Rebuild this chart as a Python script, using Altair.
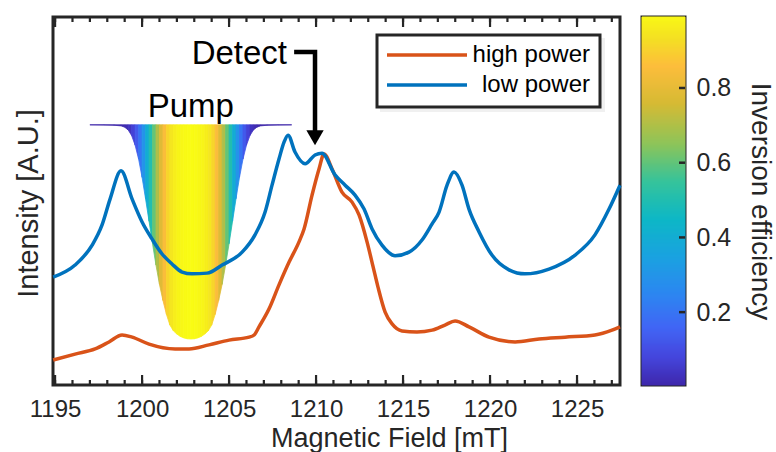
import altair as alt
import numpy as np
import pandas as pd

FONT = "Liberation Sans"
INK = "#262626"

# ---------------- data ----------------
low_field = [1194.89, 1196.15, 1197.13, 1197.70, 1198.16, 1198.79, 1199.43, 1200.00, 1200.57, 1201.15,
             1201.72, 1202.30, 1202.87, 1203.74, 1204.60, 1205.75, 1206.49, 1207.07, 1207.47, 1207.87,
             1208.16, 1208.39, 1208.79, 1209.37, 1209.94, 1210.34, 1211.09, 1211.67, 1212.24, 1212.76,
             1213.22, 1213.79, 1214.54, 1215.34, 1216.09, 1216.67, 1217.07, 1217.53, 1217.93, 1218.39,
             1218.79, 1219.37, 1220.11, 1221.09, 1222.01, 1223.39, 1224.89, 1226.03, 1226.84, 1227.47]
low_int = [0.293, 0.326, 0.380, 0.435, 0.505, 0.582, 0.505, 0.443, 0.397, 0.356,
           0.329, 0.307, 0.302, 0.304, 0.326, 0.361, 0.408, 0.470, 0.543, 0.614,
           0.660, 0.679, 0.633, 0.601, 0.625, 0.630, 0.571, 0.543, 0.516, 0.478,
           0.424, 0.380, 0.351, 0.361, 0.394, 0.438, 0.470, 0.543, 0.579, 0.543,
           0.478, 0.416, 0.353, 0.313, 0.302, 0.315, 0.353, 0.408, 0.478, 0.543]

high_field = [1194.89, 1196.15, 1197.30, 1198.10, 1198.85, 1199.43, 1200.40, 1201.90, 1202.70, 1203.85,
              1205.00, 1206.15, 1206.44, 1206.72, 1207.30, 1207.87, 1208.45, 1209.02, 1209.31, 1209.77,
              1210.17, 1210.46, 1210.92, 1211.49, 1212.07, 1212.47, 1212.93, 1213.28, 1213.56, 1213.97,
              1214.37, 1214.94, 1215.80, 1216.67, 1217.41, 1217.99, 1218.79, 1219.94, 1221.44, 1222.82,
              1224.31, 1226.03, 1227.01, 1227.47]
high_int = [0.068, 0.084, 0.098, 0.117, 0.136, 0.130, 0.111, 0.098, 0.098, 0.109,
            0.122, 0.130, 0.136, 0.158, 0.207, 0.272, 0.334, 0.389, 0.424, 0.516,
            0.587, 0.628, 0.587, 0.524, 0.497, 0.462, 0.389, 0.321, 0.266, 0.198,
            0.166, 0.147, 0.144, 0.149, 0.163, 0.174, 0.158, 0.130, 0.117, 0.125,
            0.130, 0.136, 0.149, 0.158]

series_names = ["high power", "low power"]
series_colors = ["#D95319", "#0072BD"]

# pump inversion-efficiency profile
pump_field = [1197.0, 1197.8, 1198.4, 1198.8, 1199.0, 1199.2, 1199.4, 1199.6, 1199.8, 1200.0,
              1200.2, 1200.4, 1200.6, 1200.8, 1201.0, 1201.2, 1201.4, 1201.6, 1201.8, 1202.0,
              1202.2, 1202.4, 1202.6, 1202.8, 1203.0, 1203.2, 1203.4, 1203.6, 1203.8, 1204.0,
              1204.2, 1204.4, 1204.6, 1204.8, 1205.0, 1205.2, 1205.4, 1205.6, 1205.8, 1206.0,
              1206.2, 1206.4, 1206.6, 1206.8, 1207.2, 1207.8, 1208.6]
pump_eff = [0.000, 0.001, 0.002, 0.005, 0.011, 0.024, 0.050, 0.095, 0.160, 0.245,
            0.345, 0.450, 0.555, 0.655, 0.745, 0.820, 0.885, 0.935, 0.962, 0.977,
            0.988, 0.995, 0.999, 1.000, 0.999, 0.995, 0.988, 0.977, 0.962, 0.935,
            0.885, 0.820, 0.745, 0.655, 0.555, 0.450, 0.345, 0.245, 0.160, 0.095,
            0.050, 0.024, 0.011, 0.005, 0.002, 0.001, 0.000]
pump_top = 0.707      # intensity level of the pump baseline
pump_depth = 0.582    # depth of the pump at full inversion

# axis ticks
x_major = [1195, 1200, 1205, 1210, 1215, 1220, 1225]
x_minor = list(range(1195, 1228))
cb_ticks = [0.2, 0.4, 0.6, 0.8]

# annotations
pump_label = ["Pump"]
pump_label_field = [1202.8]
pump_label_level = [0.728]
detect_label = ["Detect"]
detect_label_field = [1208.33]
detect_label_level = [0.873]
arrow_field = [1208.74, 1209.94, 1209.94]
arrow_level = [0.905, 0.905, 0.680]
arrow_head_field = [1209.94]
arrow_head_level = [0.672]

# parula-like colormap
parula_stops = [0.0, 0.08, 0.16, 0.25, 0.35, 0.45, 0.55, 0.65, 0.76, 0.86, 0.93, 1.0]
parula_colors = ["#3e26a8", "#4545dc", "#4166f5", "#2c86f1", "#1aa2e0", "#0db7c6",
                 "#35c39b", "#8cc45a", "#d6ba34", "#fdbd3c", "#f4de24", "#f9fb14"]

# ---------------- tables ----------------
lines_df = pd.concat([
    pd.DataFrame({"series": "high power", "field": high_field, "intensity": high_int}),
    pd.DataFrame({"series": "low power", "field": low_field, "intensity": low_int}),
])

rows = []
for i in range(len(pump_field) - 1):
    c = (pump_eff[i] + pump_eff[i + 1]) / 2
    for j in (i, i + 1):
        rows.append({"strip": i, "field": pump_field[j],
                     "bottom": pump_top - pump_depth * pump_eff[j],
                     "top": pump_top, "eff": c})
pump_df = pd.DataFrame(rows)

cb_levels = np.linspace(0.005, 0.99, 185)  # samples of the colour scale
cb_df = pd.DataFrame({"lo": cb_levels[:-1], "hi": cb_levels[1:],
                      "mid": (cb_levels[:-1] + cb_levels[1:]) / 2})

# ---------------- scales / axes ----------------
XT = "Magnetic Field [mT]"
YT = "Intensity [A.U.]"
xs = alt.Scale(domain=[1194.88, 1227.47], nice=False, zero=False)
ys = alt.Scale(domain=[0, 1], nice=False, zero=False)
par = alt.Scale(domain=parula_stops, range=parula_colors, interpolate="rgb")
ser = alt.Scale(domain=series_names, range=series_colors)

xax = alt.Axis(values=x_major, format="d", ticks=False, domain=False, grid=False,
               labelFontSize=24, labelPadding=12, labelColor=INK, labelFont=FONT,
               labelFlush=False,
               titleFontSize=27, titleFont=FONT, titleColor=INK, titleFontWeight="normal",
               titleX=336, titleY=40, titleAlign="center", titleBaseline="top")
yax = alt.Axis(labels=False, ticks=False, domain=False, grid=False,
               titleFontSize=29, titleFont=FONT, titleColor=INK, titleFontWeight="normal",
               titleX=-25, titleY=186, titleAlign="center", titleBaseline="middle")


def X(f):
    return alt.X(f, scale=xs, axis=xax, title=XT)


def Y(f):
    return alt.Y(f, scale=ys, axis=yax, title=YT, stack=None)


pump_area = alt.Chart(pump_df).mark_area(interpolate="linear", strokeWidth=0.8).encode(
    x=X("field:Q"), y=Y("bottom:Q"), y2="top:Q",
    fill=alt.Fill("eff:Q", scale=par, legend=None),
    stroke=alt.Stroke("eff:Q", scale=par, legend=None),
    detail="strip:N",
)

pump_text = alt.Chart(pd.DataFrame({"label": pump_label, "f": pump_label_field, "v": pump_label_level})).mark_text(
    font=FONT, fontSize=33, color="black", align="center", baseline="alphabetic").encode(
    x=X("f:Q"), y=Y("v:Q"), text="label:N")

high_line = alt.Chart(lines_df).transform_filter(alt.datum.series == "high power").mark_line(
    strokeWidth=3.5, interpolate="monotone").encode(
    x=X("field:Q"), y=Y("intensity:Q"), color=alt.Color("series:N", scale=ser, legend=None))
low_line = alt.Chart(lines_df).transform_filter(alt.datum.series == "low power").mark_line(
    strokeWidth=3.5, interpolate="monotone").encode(
    x=X("field:Q"), y=Y("intensity:Q"), color=alt.Color("series:N", scale=ser, legend=None))

arrow_df = pd.DataFrame({"f": arrow_field, "v": arrow_level, "k": [0, 1, 2]})
arrow_line = alt.Chart(arrow_df).mark_line(color="black", strokeWidth=4.5, strokeJoin="miter").encode(
    x=X("f:Q"), y=Y("v:Q"), order="k:Q")
arrow_head = alt.Chart(pd.DataFrame({"f": arrow_head_field, "v": arrow_head_level})).mark_point(
    shape="triangle-down", filled=True, color="black", size=300, opacity=1).encode(
    x=X("f:Q"), y=Y("v:Q"))
detect_text = alt.Chart(pd.DataFrame({"label": detect_label, "f": detect_label_field, "v": detect_label_level})).mark_text(
    font=FONT, fontSize=33, color="black", align="right", baseline="alphabetic").encode(
    x=X("f:Q"), y=Y("v:Q"), text="label:N")

maj_df = pd.DataFrame({"tick": x_major})
min_df = pd.DataFrame({"tick": x_minor})
H = 368
tick_layers = [
    alt.Chart(maj_df).mark_rule(color=INK, strokeWidth=2.2).encode(x=X("tick:Q"), y=alt.value(H), y2=alt.value(H - 10)),
    alt.Chart(min_df).mark_rule(color=INK, strokeWidth=2.2).encode(x=X("tick:Q"), y=alt.value(H), y2=alt.value(H - 5)),
    alt.Chart(maj_df).mark_rule(color=INK, strokeWidth=2.2).encode(x=X("tick:Q"), y=alt.value(0), y2=alt.value(10)),
    alt.Chart(min_df).mark_rule(color=INK, strokeWidth=2.2).encode(x=X("tick:Q"), y=alt.value(0), y2=alt.value(5)),
]

# legend (MATLAB style, drawn inside the axes)
one = pd.DataFrame({"k": [0]})
leg_shadow = alt.Chart(one).mark_rect(fill="black", opacity=0.06).encode(
    x=alt.value(327), x2=alt.value(552), y=alt.value(21), y2=alt.value(95))
leg_box = alt.Chart(one).mark_rect(fill="white", stroke=INK, strokeWidth=3).encode(
    x=alt.value(324), x2=alt.value(547), y=alt.value(18), y2=alt.value(90))
leg_layers = []
for name, ypix in zip(series_names, [38, 68]):
    d = pd.DataFrame({"series": [name]})
    leg_layers.append(alt.Chart(d).mark_rule(strokeWidth=3.5).encode(
        x=alt.value(334), x2=alt.value(414), y=alt.value(ypix),
        color=alt.Color("series:N", scale=ser, legend=None)))
    leg_layers.append(alt.Chart(d).mark_text(font=FONT, fontSize=24, color="black", align="right",
                                             baseline="middle").encode(
        x=alt.value(537), y=alt.value(ypix), text="series:N"))

main = alt.layer(pump_area, pump_text, high_line, low_line, arrow_line, arrow_head, detect_text,
                 *tick_layers, leg_shadow, leg_box, *leg_layers).properties(width=567, height=H)

# colour bar
cbax = alt.Axis(orient="right", values=cb_ticks, format=".1f", ticks=False, tickSize=0, domain=False, grid=False,
                labelFontSize=25, labelPadding=11, labelColor=INK, labelFont=FONT,
                titleFontSize=28, titleFont=FONT, titleColor=INK, titleFontWeight="normal",
                titleX=74, titleY=184, titleAlign="center", titleBaseline="middle")
cbs = alt.Scale(domain=[0.005, 0.99], nice=False, zero=False)
cb_rect = alt.Chart(cb_df).mark_rect(strokeWidth=1).encode(
    x=alt.value(0), x2=alt.value(43),
    y=alt.Y("lo:Q", scale=cbs, axis=cbax, title="Inversion efficiency"), y2="hi:Q",
    fill=alt.Fill("mid:Q", scale=par, legend=None),
    stroke=alt.Stroke("mid:Q", scale=par, legend=None),
)
cb_tick = alt.Chart(pd.DataFrame({"t": cb_ticks})).mark_rule(color=INK, strokeWidth=2.5).encode(
    y=alt.Y("t:Q", scale=cbs, axis=cbax, title="Inversion efficiency"),
    x=alt.value(43), x2=alt.value(37))
cbar = alt.layer(cb_rect, cb_tick).properties(width=43, height=H)

chart = alt.hconcat(main, cbar, spacing=22, bounds="flush").properties(
    padding={"left": 12, "top": 14, "right": 0, "bottom": 0},
    background="white",
).configure(font=FONT).configure_view(stroke=INK, strokeWidth=3)

chart.save("out.html", embed_options={"renderer": "svg", "actions": False})
